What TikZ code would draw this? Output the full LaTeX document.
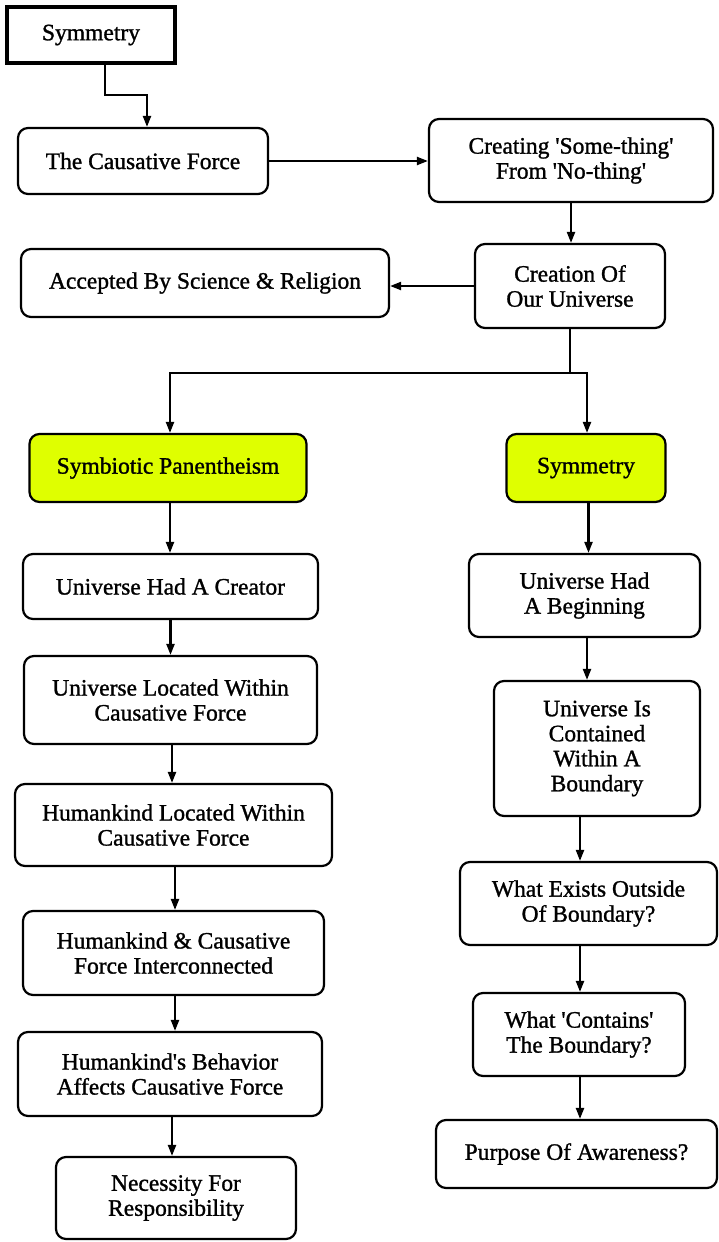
\documentclass[tikz,border=0pt]{standalone}
\usepackage{fontspec}
\setmainfont{Liberation Serif}[FakeBold=1.2]
\usetikzlibrary{arrows.meta}
\definecolor{chart}{RGB}{223,255,0}
\newcommand{\q}{\textquotesingle}
\begin{document}
\begin{tikzpicture}[x=1pt,y=-1pt,
  box/.style={draw, line width=2.2pt, rounded corners=10pt, align=center, inner sep=0pt, fill=white,
    font=\fontsize{23.5}{25}\selectfont},
  hl/.style={box, fill=chart},
  arr/.style={line width=2.2pt, -{Triangle[length=11pt,width=8pt]}},
  ln/.style={line width=2.2pt}]
\useasboundingbox (0,0) rectangle (719,1242);
\node[box, rounded corners=0pt, line width=4.5pt, minimum width=168, minimum height=56] (sym0) at (91,35) {Symmetry};
\node[box, minimum width=250, minimum height=66] (cf) at (143,161) {The Causative Force};
\node[box, minimum width=284, minimum height=83] (create) at (571,160.5) {Creating \q Some-thing\q\\From \q No-thing\q};
\node[box, minimum width=190, minimum height=84] (univ) at (570,286) {Creation Of\\Our Universe};
\node[box, minimum width=368, minimum height=68] (accept) at (205,283) {Accepted By Science \& Religion};
\node[hl, minimum width=277, minimum height=68] (symb) at (168,468) {Symbiotic Panentheism};
\node[hl, minimum width=159, minimum height=68] (symm) at (586,468) {Symmetry};
\node[box, minimum width=295, minimum height=65] (creator) at (170.5,586.5) {Universe Had A Creator};
\node[box, minimum width=231, minimum height=83] (begin) at (584.5,595.5) {Universe Had\\A Beginning};
\node[box, minimum width=293, minimum height=88] (uloc) at (170.5,700) {Universe Located Within\\Causative Force};
\node[box, minimum width=206, minimum height=135] (contained) at (597,748.5) {Universe Is\\Contained\\Within A\\Boundary};
\node[box, minimum width=317, minimum height=82] (hloc) at (173.5,825) {Humankind Located Within\\Causative Force};
\node[box, minimum width=257, minimum height=83] (outside) at (588.5,903.5) {What Exists Outside\\Of Boundary?};
\node[box, minimum width=301, minimum height=84] (inter) at (173.5,953) {Humankind \& Causative\\Force Interconnected};
\node[box, minimum width=212, minimum height=83] (contains) at (579,1034.5) {What \q Contains\q\\The Boundary?};
\node[box, minimum width=304, minimum height=84] (behav) at (170,1074) {Humankind\q s Behavior\\Affects Causative Force};
\node[box, minimum width=281, minimum height=68] (purpose) at (576.5,1154) {Purpose Of Awareness?};
\node[box, minimum width=240, minimum height=82] (necess) at (176,1198) {Necessity For\\Responsibility};
% connectors
\draw[arr] ([xshift=14pt]sym0.south) -- ++(0,30) -| ([xshift=4pt]cf.north);
\draw[arr] (cf.east) -- (cf.east -| create.west);
\draw[arr] (create.south) -- (create.south |- univ.north);
\draw[arr] (univ.west) -- (univ.west -| accept.east);
\coordinate (split) at ([yshift=-44pt]univ.south);
\draw[ln] (univ.south) -- (split);
\draw[arr] (split) -| ([xshift=2pt]symb.north);
\draw[arr] (split) -| ([xshift=1pt]symm.north);
\draw[arr] ([xshift=2pt]symb.south) -- ([xshift=2pt]symb.south |- creator.north);
\draw[arr] (creator.south) -- (creator.south |- uloc.north);
\draw[arr] ([xshift=1.5pt]uloc.south) -- ([xshift=1.5pt]uloc.south |- hloc.north);
\draw[arr] ([xshift=1.5pt]hloc.south) -- ([xshift=1.5pt]hloc.south |- inter.north);
\draw[arr] ([xshift=1.5pt]inter.south) -- ([xshift=1.5pt]inter.south |- behav.north);
\draw[arr] ([xshift=2pt]behav.south) -- ([xshift=2pt]behav.south |- necess.north);
\draw[arr] ([xshift=2.5pt]symm.south) -- ([xshift=2.5pt]symm.south |- begin.north);
\draw[arr] ([xshift=2.5pt]begin.south) -- ([xshift=2.5pt]begin.south |- contained.north);
\draw[arr] ([xshift=-17pt]contained.south) -- ([xshift=-17pt]contained.south |- outside.north);
\draw[arr] ([xshift=-8.5pt]outside.south) -- ([xshift=-8.5pt]outside.south |- contains.north);
\draw[arr] ([xshift=1pt]contains.south) -- ([xshift=1pt]contains.south |- purpose.north);
\end{tikzpicture}
\end{document}
